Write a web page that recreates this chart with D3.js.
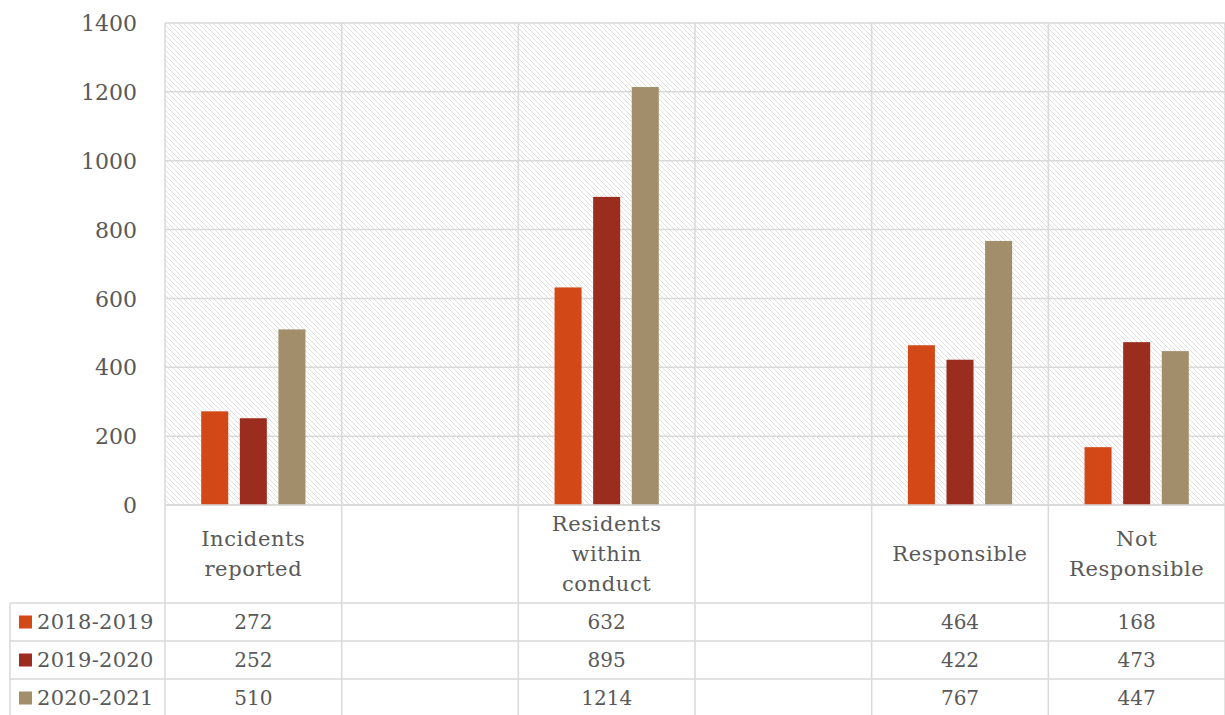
<!DOCTYPE html>
<html>
<head>
<meta charset="utf-8">
<script src="https://cdn.jsdelivr.net/npm/d3@7"></script>
<style>
  html, body { margin: 0; padding: 0; background: #fff; }
  svg { display: block; }
  text { font-family: "DejaVu Serif", "Liberation Serif", serif; fill: #595959; }
</style>
</head>
<body>
<svg id="chart" width="1225" height="715"></svg>
<script>
// Conduct case counts by academic year
const categories = [["Incidents", "reported"], [], ["Residents", "within", "conduct"], [], ["Responsible"], ["Not", "Responsible"]];
const seriesNames = ["2018-2019", "2019-2020", "2020-2021"];
const values2018 = [272, null, 632, null, 464, 168];
const values2019 = [252, null, 895, null, 422, 473];
const values2020 = [510, null, 1214, null, 767, 447];
const seriesColors = ["#D34817", "#9B2D1F", "#A28E6A"];
const yTicks = [0, 200, 400, 600, 800, 1000, 1200, 1400];

const seriesValues = [values2018, values2019, values2020];

const W = 1225, H = 715;
const plot = { left: 165, right: 1225, top: 23, bottom: 505 };
const table = { left: 10, labelBottom: 603, rowH: 38, gridColor: "#d9d9d9" };

const svg = d3.select("#chart");

// diagonal hatch fill for the plot background
const defs = svg.append("defs");
const pat = defs.append("pattern")
  .attr("id", "hatch").attr("patternUnits", "userSpaceOnUse")
  .attr("width", 5).attr("height", 5);
pat.append("rect").attr("width", 5).attr("height", 5).attr("fill", "#fff");
pat.append("path").attr("d", "M-1,-1 L6,6 M-1,4 L1,6 M4,-1 L6,1")
  .attr("stroke", "#dcdcdc").attr("stroke-width", 0.9);

const x0 = d3.scaleBand()
  .domain(d3.range(categories.length))
  .range([plot.left, plot.right])
  .padding(0);

const groupW = x0.bandwidth() * 0.59;
const x1 = d3.scaleBand()
  .domain(seriesNames)
  .range([0, groupW])
  .paddingInner(0.3)
  .paddingOuter(0);

const y = d3.scaleLinear().domain([0, 1400]).range([plot.bottom, plot.top]);

// plot background
svg.append("rect")
  .attr("x", plot.left).attr("y", plot.top)
  .attr("width", plot.right - plot.left).attr("height", plot.bottom - plot.top)
  .attr("fill", "url(#hatch)");

// horizontal gridlines
svg.append("g").selectAll("line").data(yTicks).join("line")
  .attr("x1", plot.left).attr("x2", plot.right)
  .attr("y1", d => y(d)).attr("y2", d => y(d))
  .attr("stroke", table.gridColor).attr("stroke-width", 1.5);

// y axis labels
const yAxis = d3.axisLeft(y).tickValues(yTicks).tickFormat(d3.format("d")).tickSize(0).tickPadding(0);
const yg = svg.append("g").attr("transform", `translate(${plot.left - 28},0)`).call(yAxis);
yg.select(".domain").remove();
yg.selectAll("text")
  .style("font-family", '"DejaVu Serif", serif')
  .style("font-size", "22px")
  .attr("fill", "#595959")
  .attr("dy", "0.35em");

// category boundaries running through plot and data table
const tableBottom = table.labelBottom + table.rowH * 3;
const bounds = d3.range(categories.length + 1).map(i => i < categories.length ? x0(i) : plot.right);
svg.append("g").selectAll("line").data(bounds).join("line")
  .attr("x1", d => d).attr("x2", d => d)
  .attr("y1", plot.top).attr("y2", tableBottom)
  .attr("stroke", table.gridColor).attr("stroke-width", 1.5);

// bars
const barG = svg.append("g");
seriesNames.forEach((name, si) => {
  barG.append("g").selectAll("rect")
    .data(seriesValues[si].map((v, i) => ({ v, i })).filter(d => d.v != null))
    .join("rect")
    .attr("x", d => x0(d.i) + (x0.bandwidth() - groupW) / 2 + x1(name))
    .attr("width", x1.bandwidth())
    .attr("y", d => y(d.v))
    .attr("height", d => y(0) - y(d.v))
    .attr("fill", seriesColors[si]);
});

// table horizontal lines
const hLines = [plot.bottom, table.labelBottom, table.labelBottom + table.rowH, table.labelBottom + 2 * table.rowH, tableBottom];
svg.append("g").selectAll("line").data(hLines).join("line")
  .attr("x1", (d, i) => i === 0 ? plot.left : table.left)
  .attr("x2", plot.right)
  .attr("y1", d => d).attr("y2", d => d)
  .attr("stroke", table.gridColor).attr("stroke-width", 1.5);
svg.append("line")
  .attr("x1", table.left).attr("x2", table.left)
  .attr("y1", table.labelBottom).attr("y2", tableBottom)
  .attr("stroke", table.gridColor).attr("stroke-width", 1.5);

// category labels
const labelMid = (plot.bottom + table.labelBottom) / 2;
const lineH = 30;
categories.forEach((lines, i) => {
  const t = svg.append("text")
    .attr("text-anchor", "middle")
    .style("font-size", "21px")
    .style("letter-spacing", "0.6px");
  lines.forEach((ln, k) => {
    t.append("tspan")
      .attr("x", x0(i) + x0.bandwidth() / 2)
      .attr("y", labelMid + (k - (lines.length - 1) / 2) * lineH)
      .attr("dy", "0.35em")
      .text(ln);
  });
});

// data table rows: legend key + values
seriesNames.forEach((name, si) => {
  const cy = table.labelBottom + table.rowH * si + table.rowH / 2;
  svg.append("rect")
    .attr("x", 19).attr("y", cy - 6.5)
    .attr("width", 13).attr("height", 13)
    .attr("fill", seriesColors[si]);
  svg.append("text")
    .attr("x", 37).attr("y", cy).attr("dy", "0.35em")
    .style("font-size", "21px")
    .style("letter-spacing", "0.3px")
    .text(name);
  seriesValues[si].forEach((v, i) => {
    if (v == null) return;
    svg.append("text")
      .attr("x", x0(i) + x0.bandwidth() / 2).attr("y", cy).attr("dy", "0.35em")
      .attr("text-anchor", "middle")
      .style("font-size", "20px")
      .text(v);
  });
});
</script>
</body>
</html>
